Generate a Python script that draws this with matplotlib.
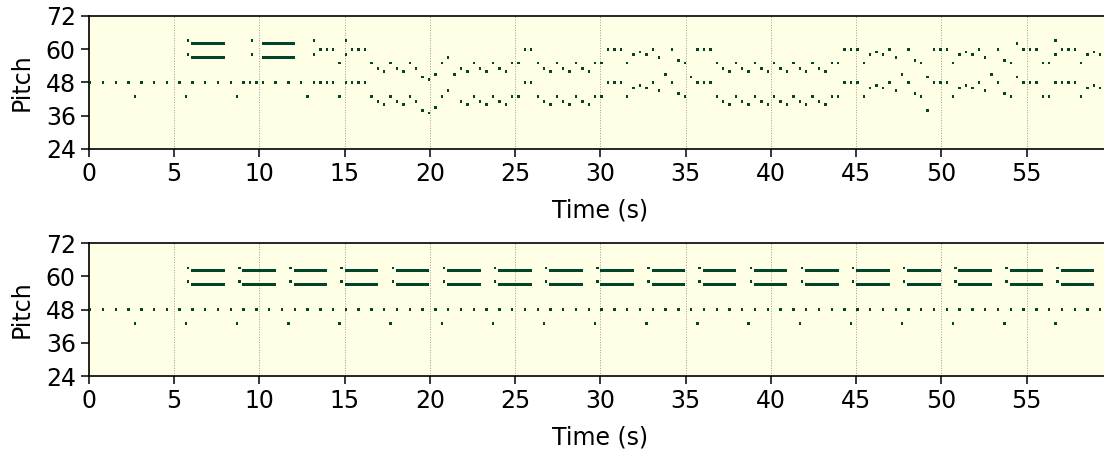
import numpy as np
import matplotlib
matplotlib.use('Agg')
import matplotlib.pyplot as plt

# ---- data -------------------------------------------------------------
step = 0.375          # melody grid (s)
dot = 0.14            # length of the short notes (s)

# bottom roll: one 3 s bar repeated
bar_starts = [0, 3, 6, 9, 12, 15, 18, 21, 24, 27, 30, 33, 36, 39, 42, 45, 48, 51, 54, 57]
bar_bass48 = [0.0, 0.75, 1.5, 2.25]
bar_bass43 = [2.625]
grace_times = [5.75, 8.75, 11.75, 14.75, 17.75, 20.75, 23.75, 26.75, 29.75, 32.75,
               35.75, 38.75, 41.75, 44.75, 47.75, 50.75, 53.75, 56.75, 59.75]
chord_starts = [6, 9, 12, 15, 18, 21, 24, 27, 30, 33, 36, 39, 42, 45, 48, 51, 54, 57]
chord_len = 1.97
grace_pitches = [63, 58]
chord_pitches = [62, 57]

# top roll: intro, then a generated melody on the 0.375 s grid
top_bass48 = [0.0, 0.75, 1.5, 2.25, 3.0, 3.75, 4.5, 5.25, 6.0, 6.75, 7.5, 8.25, 9.0,
              9.375, 9.75, 10.125, 10.875]
top_bass43 = [2.625, 5.625, 8.625]
top_graces = [5.75, 9.5]
top_chords = [6.0, 10.125]

mel_k = [31, 33, 34, 35, 36, 37, 38, 39, 40, 41, 42, 43, 44, 45, 46, 47, 48, 49, 50,
         51, 52, 53, 54, 55, 56, 57, 58, 59, 60, 61, 62, 63, 64, 65, 66, 67, 68, 69,
         70, 71, 72, 73, 74, 75, 76, 77, 78, 79, 80, 81, 82, 83, 84, 85, 86, 87, 88,
         89, 90, 91, 92, 93, 94, 95, 96, 97, 98, 99, 100, 101, 102, 103, 104, 105, 106,
         107, 108, 109, 110, 111, 112, 113, 114, 115, 116, 117, 118, 119, 120, 121, 122,
         123, 124, 125, 126, 127, 128, 129, 130, 131, 132, 133, 134, 135, 136, 137, 138,
         139, 140, 141, 142, 143, 144, 145, 146, 147, 148, 149, 150, 151, 152, 153, 154,
         155, 156, 157, 158, 159]
mel_p = [[48], [48], [43], [63, 58, 48], [60, 48], [60, 48], [60, 48], [55, 43],
         [63, 58, 48], [60, 48], [60, 48], [60, 48], [55, 43], [53, 41], [52, 40],
         [55, 43], [53, 41], [52, 40], [55, 43], [53, 41], [50, 38], [49, 37], [51, 39],
         [55, 43], [57, 45], [51], [53, 41], [52, 40], [55, 43], [53, 41], [52, 40],
         [55, 43], [53, 41], [52, 40], [55, 43], [55, 43], [60, 48], [60, 48], [55, 43],
         [53, 41], [52, 40], [55, 43], [53, 41], [52, 40], [55, 43], [53, 41], [52, 40],
         [55, 43], [55, 43], [60, 48], [60, 48], [60, 48], [55, 43], [58, 46], [59, 47],
         [58, 46], [60, 48], [57, 45], [51], [60, 48], [56, 44], [55, 43], [50],
         [60, 48], [60, 48], [60, 48], [55, 43], [53, 41], [52, 40], [55, 43], [53, 41],
         [52, 40], [55, 43], [53, 41], [52, 40], [55, 43], [53, 41], [52, 40], [55, 43],
         [53, 41], [52, 40], [55, 43], [53, 41], [52, 40], [55, 43], [55, 43], [60, 48],
         [60, 48], [60, 48], [55, 43], [58, 46], [59, 47], [58, 46], [60, 48], [57, 45],
         [51], [60, 48], [56, 44], [55, 43], [50, 38], [60, 48], [60, 48], [60, 48],
         [55, 43], [58, 46], [59, 47], [58, 46], [60, 48], [57, 45], [51], [60, 48],
         [56, 44], [55, 43], [62, 50], [60, 48], [60, 48], [60, 48], [55, 43], [55, 43],
         [63, 58, 48], [60, 48], [60, 48], [60, 48], [55, 43], [58, 46], [59, 47],
         [58, 46], [60, 48]]

xticks = [0, 5, 10, 15, 20, 25, 30, 35, 40, 45, 50, 55]
yticks = [24, 36, 48, 60, 72]

bg = '#ffffe5'
ink = '#004529'

# ---- collect notes ----------------------------------------------------
def add(notes, t, p, d):
    notes.append((t, p, d))

bottom = []
for b in bar_starts:
    for o in bar_bass48:
        add(bottom, b + o, 48, dot)
    for o in bar_bass43:
        add(bottom, b + o, 43, dot)
for g in grace_times:
    for p in grace_pitches:
        add(bottom, g, p, dot)
for c in chord_starts:
    for p in chord_pitches:
        add(bottom, c, p, chord_len)

top = []
for t in top_bass48:
    add(top, t, 48, dot)
for t in top_bass43:
    add(top, t, 43, dot)
for g in top_graces:
    for p in grace_pitches:
        add(top, g, p, dot)
for c in top_chords:
    for p in chord_pitches:
        add(top, c, p, chord_len)
for k, ps in zip(mel_k, mel_p):
    for p in ps:
        add(top, k * step, p, dot)

# ---- plot -------------------------------------------------------------
plt.rcParams['font.size'] = 17
plt.rcParams['axes.linewidth'] = 1.2
plt.rcParams['xtick.major.size'] = 6
plt.rcParams['ytick.major.size'] = 6
plt.rcParams['xtick.major.width'] = 1.1
plt.rcParams['ytick.major.width'] = 1.1

fig = plt.figure(figsize=(11.04, 4.5), dpi=100)
ax1 = fig.add_axes([0.0806, 0.669, 0.925, 0.2956])
ax2 = fig.add_axes([0.0806, 0.1644, 0.925, 0.2956])

for ax, notes in ((ax1, top), (ax2, bottom)):
    arr = np.array(notes)
    ax.set_facecolor(bg)
    ax.barh(arr[:, 1], arr[:, 2], left=arr[:, 0], height=1.0, color=ink,
            linewidth=0, zorder=3)
    ax.set_xlim(0, 59.9)
    ax.set_ylim(24, 72)
    ax.set_xticks(xticks)
    ax.set_yticks(yticks)
    ax.xaxis.grid(True, color='#999999', linestyle=':', linewidth=0.7, zorder=1)
    ax.set_axisbelow(True)
    ax.set_xlabel('Time (s)', labelpad=9)
    ax.set_ylabel('Pitch', labelpad=9)
    ax.spines['right'].set_visible(False)

fig.savefig('out.png', dpi=100)
